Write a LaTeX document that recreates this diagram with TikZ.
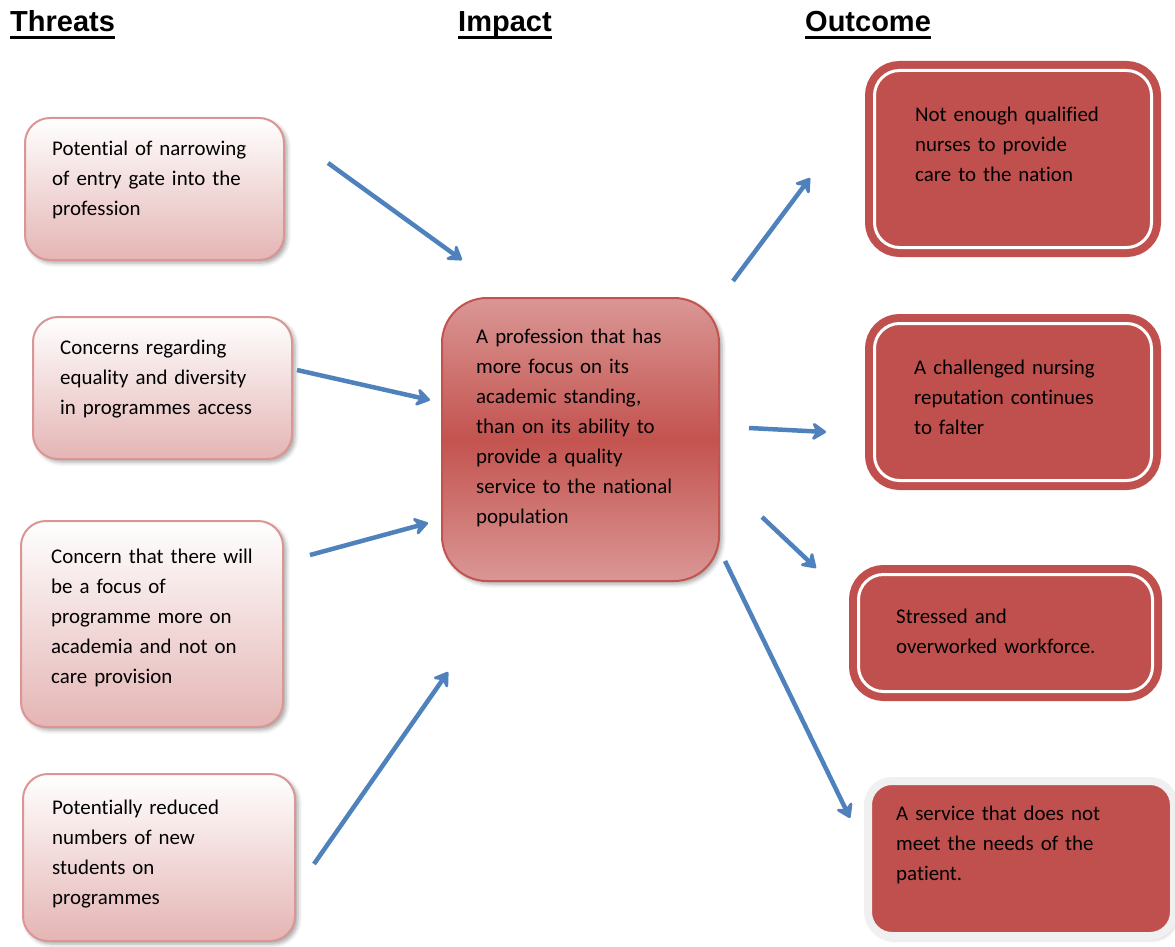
\documentclass[tikz,border=0pt]{standalone}
\usepackage{fontspec}
\setmainfont{Carlito}[Ligatures=NoCommon]
\newfontfamily\headfont{Liberation Sans}
\usetikzlibrary{
    arrows.meta,
    positioning,
    calc,
    shadows.blur,
}

\definecolor{threatline}{HTML}{D99694}
\definecolor{threatfill}{HTML}{E4B5B4}
\definecolor{impactred}{HTML}{C3534F}
\definecolor{impactpink}{HTML}{DA9795}
\definecolor{outred}{HTML}{C0504D}
\definecolor{arrowblue}{HTML}{4F81BD}

\begin{document}
\begin{tikzpicture}[
    x=1pt, y=-1pt,
    box/.style={rounded corners=25pt, anchor=north west, inner sep=0pt},
    threat/.style={box, draw=threatline, line width=2pt, top color=white, bottom color=threatfill,
        blur shadow={shadow xshift=3pt, shadow yshift=-3pt, shadow blur radius=4pt, shadow opacity=35}},
    impact/.style={box, rounded corners=45pt, draw=impactred, line width=2pt,
        top color=impactpink, bottom color=impactpink, middle color=impactred,
        blur shadow={shadow xshift=3pt, shadow yshift=-3pt, shadow blur radius=4pt, shadow opacity=35}},
    outcome/.style={box, rounded corners=25pt, fill=outred, draw=outred, line width=8pt, double=white, double distance=3pt},
    lastout/.style={box, rounded corners=24pt, fill=outred, draw=black!6, line width=8pt,
        blur shadow={shadow xshift=2pt, shadow yshift=-3pt, shadow blur radius=4pt, shadow opacity=30}},
    txt/.style={anchor=base west, inner sep=0pt, align=left, text width=250pt, font=\fontsize{20.9}{30}\selectfont},
    head/.style={anchor=base west, inner sep=0pt, font=\headfont\bfseries\fontsize{29}{34}\selectfont},
    flow/.style={draw=arrowblue, line width=4.5pt, -{Stealth[length=17pt, width=22pt, inset=6pt, round]}},
]
\useasboundingbox (0,0) rectangle (1175,947);

\node[head] (hthreats) at (10,32) {Threats};
\node[head] (himpact) at (458,32) {Impact};
\node[head] (houtcome) at (805,32) {Outcome};
\foreach \h in {hthreats,himpact,houtcome}
    \draw[line width=3pt] ([yshift=-6pt]\h.base west) -- ([yshift=-6pt]\h.base east);

\node[threat, minimum width=259pt, minimum height=142pt] (t1) at (24,117) {};
\node[threat, minimum width=259pt, minimum height=142pt] (t2) at (32,316) {};
\node[threat, minimum width=262pt, minimum height=206pt] (t3) at (20,520) {};
\node[threat, minimum width=272pt, minimum height=167pt] (t4) at (22,773) {};

\node[txt] (t1text) at (52,155) {Potential of narrowing\\of entry gate into the\\profession};
\node[txt] (t2text) at (60,354) {Concerns regarding\\equality and diversity\\in programmes access};
\node[txt] (t3text) at (51,563) {Concern that there will\\be a focus of\\programme more on\\academia and not on\\care provision};
\node[txt] (t4text) at (52,814) {Potentially reduced\\numbers of new\\students on\\programmes};

\node[impact, minimum width=277pt, minimum height=283pt] (impact) at (441,297) {};
\node[txt] (impacttext) at (476,343) {A profession that has\\more focus on its\\academic standing,\\than on its ability to\\provide a quality\\service to the national\\population};

\node[outcome, minimum width=277pt, minimum height=177pt] (o1) at (870.5,66.5) {};
\node[outcome, minimum width=277pt, minimum height=157pt] (o2) at (870.5,319.5) {};
\node[outcome, minimum width=294pt, minimum height=117pt] (o3) at (854.5,570.5) {};
\node[lastout, minimum width=306pt, minimum height=155pt] (o4) at (864,777) {};

\node[txt] (o1text) at (915,122) {Not enough qualified\\nurses to provide\\care to the nation};
\node[txt] (o2text) at (914,374) {A challenged nursing\\reputation continues\\to falter};
\node[txt] (o3text) at (896,623) {Stressed and\\overworked workforce.};
\node[txt] (o4text) at (896,820) {A service that does not\\meet the needs of the\\patient.};

\coordinate (in1s) at (328,163);  \coordinate (in1e) at (462,260);
\coordinate (in2s) at (297,370);  \coordinate (in2e) at (430,400);
\coordinate (in3s) at (310,555);  \coordinate (in3e) at (428,523);
\coordinate (in4s) at (314,864);  \coordinate (in4e) at (448,672);
\coordinate (out1s) at (733,281); \coordinate (out1e) at (810,178);
\coordinate (out2s) at (749,428); \coordinate (out2e) at (826,432);
\coordinate (out3s) at (762,517); \coordinate (out3e) at (816,568);
\coordinate (out4s) at (725,561); \coordinate (out4e) at (850,818);

\foreach \a in {in1,in2,in3,in4,out1,out2,out3,out4}
    \draw[flow] (\a s) -- (\a e);

\end{tikzpicture}
\end{document}
